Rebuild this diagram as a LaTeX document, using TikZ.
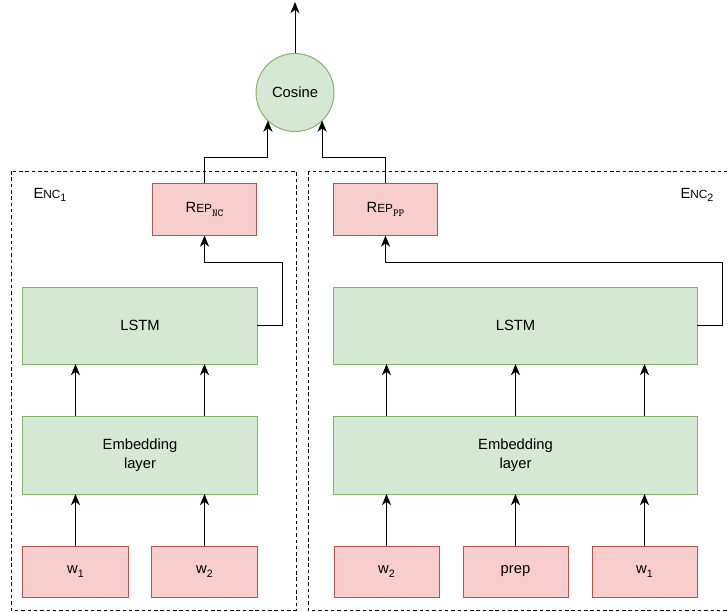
\documentclass[tikz,border=0pt]{standalone}
\usepackage{fontspec}
\setmainfont{Liberation Sans}
\usepackage{tikz}
\usetikzlibrary{arrows.meta}
\definecolor{fillgreen}{HTML}{D5E8D4}
\definecolor{linegreen}{HTML}{82B366}
\definecolor{fillred}{HTML}{F8CECC}
\definecolor{linered}{HTML}{B85450}
\newcommand{\capsize}{\fontsize{8.4}{10}\selectfont}
\newcommand{\subsize}{\fontsize{7.6}{9}\selectfont}
\newcommand{\repname}[1]{R{\capsize EP}\raisebox{-0.45ex}{\subsize\ttfamily #1}}
\newcommand{\encname}[1]{E{\capsize NC}\raisebox{-0.45ex}{\subsize #1}}
\newcommand{\wsub}[1]{w\raisebox{-0.45ex}{\subsize #1}}
\newcommand{\embtext}{\raisebox{-2.2pt}{\begin{tabular}{@{}c@{}}Embedding\\layer\end{tabular}}}

\begin{document}
\begin{tikzpicture}[x=0.025cm, y=-0.025cm, line width=0.7pt,
    font=\fontsize{10.5}{13.4}\selectfont,
    >={Stealth[length=8pt,width=6.5pt,inset=2.5pt]},
    greenbox/.style={draw=linegreen, fill=fillgreen, inner sep=0pt, outer sep=0pt, align=center},
    redbox/.style={draw=linered, fill=fillred, inner sep=0pt, outer sep=0pt,
      minimum width=2.6cm, minimum height=1.3cm},
    encbox/.style={draw, dash pattern=on 2.5pt off 2pt}]
  \clip (0,0) rectangle (728,611);
  \draw [encbox] (11,171) rectangle (296,610);
  \draw [encbox] (308,171) rectangle (740,610);
  \node (EncL) at (50,195) {\encname{1}};
  \node (EncR) at (697,195) {\encname{2}};
  \node [greenbox, circle, minimum size=1.95cm] (Cos) at (295,92.5) {Cosine};
  \coordinate (Out) at (295,2);
  \draw [->] (Cos.north) -- (Out);
  \node [redbox] (RepL) at (204.5,209.5) {\repname{NC}};
  \node [redbox] (RepR) at (385.5,209.5) {\repname{PP}};
  \coordinate (Join) at (295,157);
  \draw [->] (RepL.north) -- (RepL.north |- Join) -| (Cos.226);
  \draw [->] (RepR.north) -- (RepR.north |- Join) -| (Cos.314);
  \node [greenbox, minimum width=5.85cm, minimum height=1.925cm] (LstmL) at (140,325.5) {LSTM};
  \node [greenbox, minimum width=9.075cm, minimum height=1.925cm] (LstmR) at (515.5,325.5) {LSTM};
  \coordinate (BendL) at (282,262);
  \coordinate (BendR) at (722,262);
  \draw [->] (LstmL.east) -| (BendL) -| (RepL.south);
  \draw [->] (LstmR.east) -| (BendR) -| (RepR.south);
  \node [greenbox, minimum width=5.85cm, minimum height=1.95cm] (EmbL) at (140,455) {\embtext};
  \node [greenbox, minimum width=9.075cm, minimum height=1.95cm] (EmbR) at (515.5,455) {\embtext};
  \node [redbox, minimum width=2.625cm, minimum height=1.275cm] (LW1) at (75.5,571.5) {\wsub{1}};
  \node [redbox, minimum width=2.625cm, minimum height=1.275cm] (LW2) at (204.5,571.5) {\wsub{2}};
  \node [redbox, minimum width=2.625cm, minimum height=1.275cm] (RW2) at (386.5,571.5) {\wsub{2}};
  \node [redbox, minimum width=2.625cm, minimum height=1.275cm] (RPrep) at (515.5,571.5) {prep};
  \node [redbox, minimum width=2.625cm, minimum height=1.275cm] (RW1) at (644.5,571.5) {\wsub{1}};
  \foreach \w in {LW1,LW2} {
    \draw [->] (\w.north) -- (\w.north |- EmbL.south);
    \draw [->] (\w.north |- EmbL.north) -- (\w.north |- LstmL.south);
  }
  \foreach \w in {RW2,RPrep,RW1} {
    \draw [->] (\w.north) -- (\w.north |- EmbR.south);
    \draw [->] (\w.north |- EmbR.north) -- (\w.north |- LstmR.south);
  }
\end{tikzpicture}
\end{document}
